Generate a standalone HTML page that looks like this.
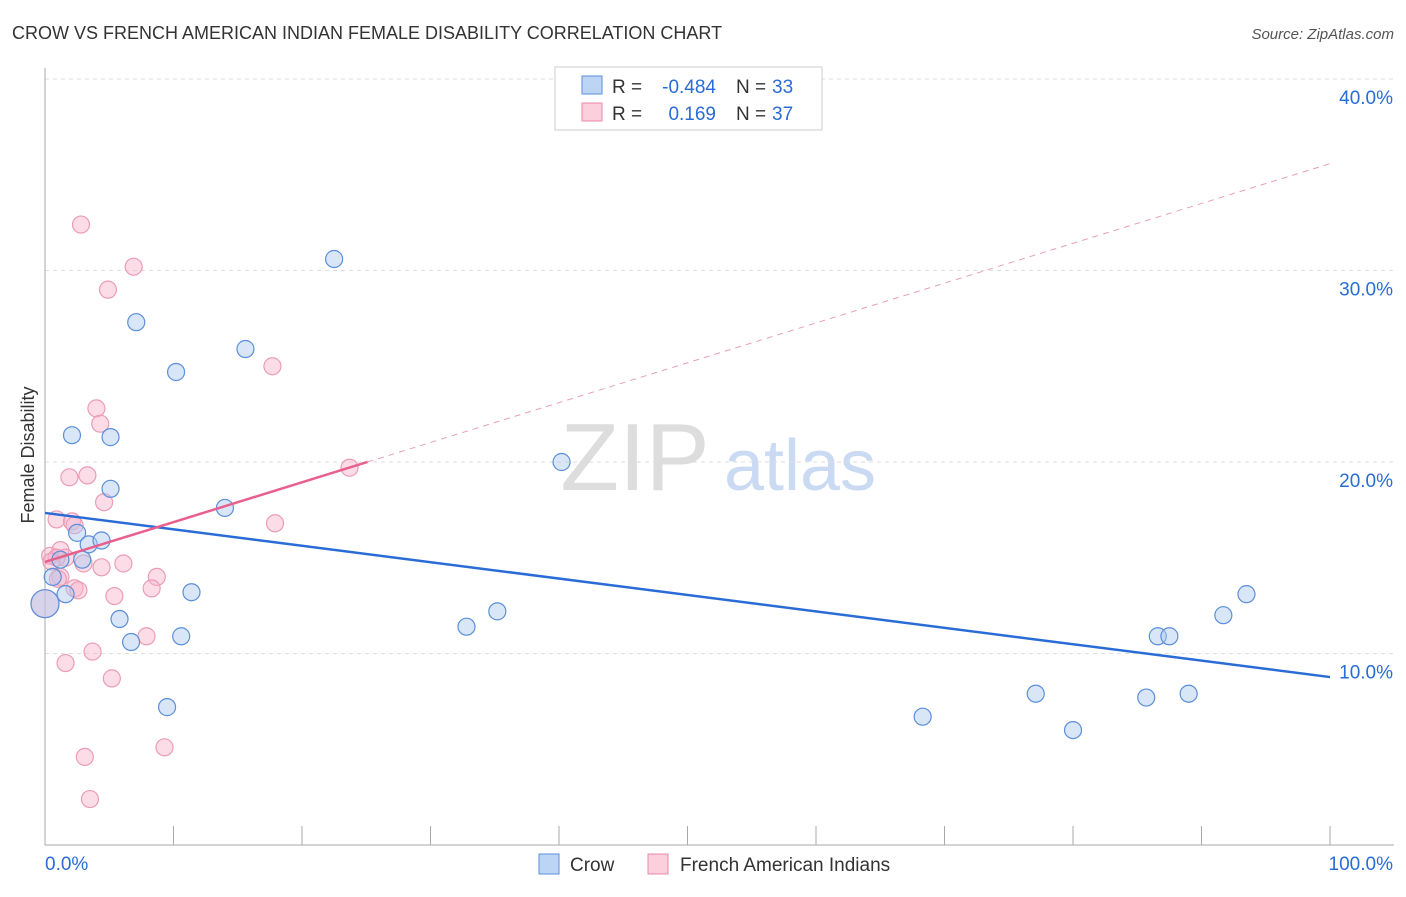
<!DOCTYPE html>
<html><head><meta charset="utf-8"><style>
body{margin:0;background:#fff;font-family:"Liberation Sans",sans-serif}
svg text{font-family:"Liberation Sans",sans-serif}
</style></head><body>
<svg id="c" width="1406" height="892">
<text x="12" y="39" font-size="18" fill="#333">CROW VS FRENCH AMERICAN INDIAN FEMALE DISABILITY CORRELATION CHART</text>
<text x="1394" y="39" font-size="15" fill="#555" font-style="italic" text-anchor="end">Source: ZipAtlas.com</text>
<text x="34" y="455" font-size="18" fill="#333" transform="rotate(-90 34 455)" text-anchor="middle">Female Disability</text>
<g><text x="635" y="490" font-size="96" fill="#ddd" font-family="Liberation Serif" text-anchor="middle">ZIP</text><text x="800" y="490" font-size="72" fill="#c9daf2" text-anchor="middle">atlas</text></g>
<g id="grid"></g><g id="pts"></g><g id="lines"></g>
<g>
<rect x="555" y="67" width="267" height="63" fill="#fff" stroke="#ccc"/>
<rect x="582" y="76" width="20" height="18" fill="#bcd5f5" stroke="#5b8fd9"/>
<rect x="582" y="103" width="20" height="18" fill="#fbcfdc" stroke="#e88aa8"/>
<text x="612" y="93" font-size="19" fill="#333">R =</text><text x="716" y="93" font-size="19" fill="#2a6cd6" text-anchor="end">-0.484</text>
<text x="736" y="93" font-size="19" fill="#333">N =</text><text x="772" y="93" font-size="19" fill="#2a6cd6">33</text>
<text x="612" y="120" font-size="19" fill="#333">R =</text><text x="716" y="120" font-size="19" fill="#2a6cd6" text-anchor="end">0.169</text>
<text x="736" y="120" font-size="19" fill="#333">N =</text><text x="772" y="120" font-size="19" fill="#2a6cd6">37</text>
</g>
<g>
<rect x="539" y="854" width="20" height="20" fill="#bcd5f5" stroke="#5b8fd9"/><text x="570" y="871" font-size="19" fill="#333">Crow</text>
<rect x="648" y="854" width="20" height="20" fill="#fbcfdc" stroke="#e88aa8"/><text x="680" y="871" font-size="19" fill="#333">French American Indians</text>
</g>
</svg>
<script>
const yTicks=[10,20,30,40];
const xTickLabels=["0.0%","100.0%"];
const crowX=[22.5,7.1,10.2,15.6,2.1,5.1,5.1,14.0,40.2,2.5,3.4,4.4,2.9,0.6,1.6,0,11.4,5.8,6.7,10.6,9.5,32.8,35.2,68.3,77.1,80.0,85.7,89.0,86.6,87.5,91.7,93.5,1.2];
const crowY=[30.6,27.3,24.7,25.9,21.4,21.3,18.6,17.6,20.0,16.3,15.7,15.9,14.9,14.0,13.1,12.6,13.2,11.8,10.6,10.9,7.2,11.4,12.2,6.7,7.9,6.0,7.7,7.9,10.9,10.9,12.0,13.1,14.9];
const frX=[2.8,6.9,4.9,17.7,4.0,4.3,3.3,1.9,4.6,0.9,2.1,2.3,17.9,23.7,0.4,1.2,1.6,3.0,6.1,4.4,8.7,1.2,2.3,2.6,8.3,5.4,0,7.9,3.7,1.6,5.2,3.1,9.3,3.5,0.9,1.0,0.5];
const frY=[32.4,30.2,29.0,25.0,22.8,22.0,19.3,19.2,17.9,17.0,16.9,16.7,16.8,19.7,15.1,15.4,15.0,14.7,14.7,14.5,14.0,14.0,13.4,13.3,13.4,13.0,12.6,10.9,10.1,9.5,8.7,4.6,5.1,2.4,15.0,13.9,14.8];
const crowBig=[15];const frBig=[26];
const trendCrow=[17.34,8.77];const trendFr=[14.78,0.208];
const ns="http://www.w3.org/2000/svg";
const X=v=>45+v*12.85, Y=v=>845-v*19.15;
function mk(t,a,p){const e=document.createElementNS(ns,t);for(const k in a)e.setAttribute(k,a[k]);p.appendChild(e);return e;}
const g=document.getElementById('grid');
yTicks.forEach(t=>{const l=mk('line',{x1:45,x2:1394,y1:Y(t),y2:Y(t),stroke:'#ddd','stroke-dasharray':'4 4'},g);


const tx=mk('text',{x:1393,y:Y(t)+25,'font-size':19,fill:'#2a6cd6','text-anchor':'end'},g);tx.textContent=t.toFixed(1)+'%';

});
mk('line',{x1:45,x2:45,y1:68,y2:845,stroke:'#aaa'},g);
mk('line',{x1:45,x2:1394,y1:845,y2:845,stroke:'#aaa'},g);
for(let i=1;i<=10;i++){mk('line',{x1:X(i*10),x2:X(i*10),y1:826,y2:845,stroke:'#aaa'},g);}
xTickLabels.forEach((s,i)=>{const t=mk('text',{x:i?1393:45,y:870,'font-size':19,fill:'#2a6cd6','text-anchor':i?'end':'start'},g);t.textContent=s;

});
const P=document.getElementById('pts');
frX.forEach((x,i)=>{const c=mk('circle',{cx:X(x),cy:Y(frY[i]),r:frBig.includes(i)?14:8.5,fill:'rgba(248,180,202,0.45)',stroke:'#ec9cb6','stroke-width':1.2},P);

});
crowX.forEach((x,i)=>{const c=mk('circle',{cx:X(x),cy:Y(crowY[i]),r:crowBig.includes(i)?14:8.5,fill:'rgba(170,200,240,0.45)',stroke:'#5b8fd9','stroke-width':1.2},P);

});
const L=document.getElementById('lines');
let l=mk('line',{x1:X(0),y1:Y(trendCrow[0]),x2:X(100),y2:Y(trendCrow[1]),stroke:'#2a6cd6','stroke-width':2.5},L);


l=mk('line',{x1:X(0),y1:Y(trendFr[0]),x2:X(25.1),y2:Y(trendFr[0]+trendFr[1]*25.1),stroke:'#e8608c','stroke-width':2.5},L);


l=mk('line',{x1:X(25.1),y1:Y(trendFr[0]+trendFr[1]*25.1),x2:X(100),y2:Y(trendFr[0]+trendFr[1]*100),stroke:'#e8a0b8','stroke-width':1,'stroke-dasharray':'6 5'},L);


</script>
</body></html>
